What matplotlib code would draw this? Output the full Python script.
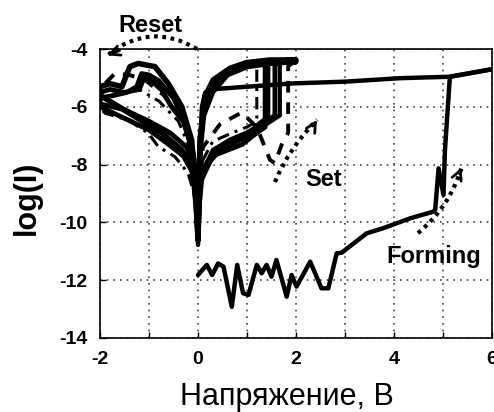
import matplotlib
matplotlib.use("Agg")
import matplotlib.pyplot as plt

plt.rcParams["font.family"] = ["Liberation Sans", "DejaVu Sans"]
plt.rcParams["font.weight"] = "bold"

# ---------------- data ----------------
# forming sweep (0 -> 6 V) and return along the LRS line back to 0 V
forming_v = [0.0, 0.18, 0.29, 0.41, 0.52, 0.69, 0.80, 0.92, 1.03, 1.20, 1.30, 1.40, 1.50, 1.60,
             1.81, 1.91, 2.01, 2.29, 2.52, 2.66, 2.83, 2.93, 3.44, 3.78, 4.33, 4.80, 4.84, 4.91,
             5.01, 5.04, 5.14, 6.0]
forming_i = [-11.82, -11.47, -11.82, -11.42, -11.53, -12.92, -11.47, -12.45, -12.51, -11.47, -11.76,
             -11.47, -11.88, -11.30, -12.57, -11.82, -12.22, -11.36, -12.28, -12.28, -11.07, -11.05,
             -10.38, -10.20, -9.86, -9.63, -9.57, -8.13, -9.05, -7.50, -4.96, -4.70]
lrs_return_v = [6.0, 5.14, 4.12, 3.0, 1.94, 0.31, 0.15, 0.08, 0.04, 0.01, 0.0]
lrs_return_i = [-4.70, -4.96, -5.01, -5.13, -5.19, -5.39, -5.50, -6.0, -7.5, -9.5, -10.78]

# switching cycles (0 -> -2 -> 0 -> +2 -> 0)
c1_v = [0.0, -0.05, -0.13, -0.33, -0.61, -0.88, -1.22, -1.39, -1.46, -1.55, -1.8, -2.0,
        -2.0, -1.42, -0.74, -0.33, -0.13, -0.03, 0.0,
        0.03, 0.2, 0.52, 0.99, 1.27, 1.42, 1.42, 2.0,
        1.47, 0.99, 0.65, 0.31, 0.14, 0.04, 0.0]
c1_i = [-10.6, -8.8, -7.15, -6.0, -5.19, -4.61, -4.5, -4.61, -4.9, -5.3, -5.2, -5.3,
        -5.6, -6.2, -6.9, -7.5, -8.1, -9.0, -10.6,
        -8.6, -7.9, -7.37, -7.03, -6.57, -6.4, -4.45, -4.38,
        -4.38, -4.47, -4.67, -5.07, -5.65, -7.15, -10.6]

c2_v = [0.0, -0.1, -0.3, -0.54, -0.74, -0.95, -1.1, -1.2, -1.5, -1.8, -2.0,
        -2.0, -1.5, -1.0, -0.57, -0.23, -0.05, 0.0,
        0.05, 0.31, 0.65, 1.0, 1.3, 1.57, 1.57, 2.0,
        1.5, 1.0, 0.6, 0.3, 0.12, 0.03, 0.0]
c2_i = [-10.3, -7.6, -6.5, -6.0, -5.42, -5.1, -5.0, -5.4, -5.5, -5.4, -5.5,
        -5.9, -6.1, -6.5, -6.9, -7.4, -8.2, -10.3,
        -8.4, -7.5, -7.15, -6.9, -6.6, -6.3, -4.45, -4.42,
        -4.45, -4.55, -4.8, -5.3, -6.0, -7.6, -10.3]

c3_v = [0.0, -0.08, -0.25, -0.5, -0.8, -1.0, -1.15, -1.25, -1.45, -1.7, -2.0,
        -2.0, -1.5, -1.0, -0.6, -0.3, -0.1, 0.0,
        0.05, 0.3, 0.6, 0.9, 1.2, 1.37, 1.37, 2.0,
        1.5, 1.0, 0.6, 0.3, 0.12, 0.03, 0.0]
c3_i = [-10.4, -7.8, -6.6, -5.7, -5.1, -4.9, -4.85, -5.3, -5.5, -5.6, -5.7,
        -6.0, -6.4, -6.8, -7.3, -7.7, -8.3, -10.4,
        -8.6, -7.7, -7.5, -7.3, -6.9, -6.7, -4.5, -4.45,
        -4.5, -4.62, -4.9, -5.5, -6.3, -7.8, -10.4]

c4_v = [0.0, -0.1, -0.35, -0.7, -1.08, -1.4, -1.69, -1.9, -2.0,
        -2.0, -1.5, -1.0, -0.7, -0.4, -0.15, 0.0,
        0.1, 0.45, 0.89, 1.2, 1.47, 1.57, 1.71, 1.84, 1.84, 2.0,
        1.5, 1.0, 0.6, 0.3, 0.1, 0.0]
c4_i = [-10.0, -7.5, -6.3, -5.6, -5.07, -4.9, -4.84, -5.2, -5.5,
        -6.1, -6.4, -6.75, -7.1, -7.5, -8.0, -10.0,
        -7.4, -6.6, -6.2, -6.7, -7.84, -7.95, -7.3, -6.9, -4.6, -4.4,
        -4.45, -4.55, -4.75, -5.2, -6.0, -10.0]

c5_v = [0.0, -0.15, -0.4, -0.8, -1.2, -1.6, -2.0,
        -2.0, -1.9, -1.42, -1.01, -0.81, -0.47, -0.2, 0.0,
        0.05, 0.3, 0.7, 1.0, 1.2, 1.2, 2.0]
c5_i = [-9.5, -7.5, -6.5, -5.8, -5.4, -5.5, -5.8,
        -6.0, -6.22, -6.46, -6.92, -7.38, -7.73, -8.3, -9.5,
        -8.0, -7.2, -6.9, -6.7, -6.5, -4.5, -4.4]

c6_v = [0.0, 0.1, 0.4, 0.8, 1.1, 1.4, 1.67, 1.67]
c6_i = [-10.0, -8.2, -7.6, -7.2, -6.9, -6.6, -6.3, -4.4]

x_ticks = [-2, -1, 0, 1, 2, 3, 4, 5, 6]
x_labels = ["-2", "", "0", "", "2", "", "4", "", "6"]
y_ticks = [-14, -12, -10, -8, -6, -4]
y_labels = ["-14", "-12", "-10", "-8", "-6", "-4"]

# ---------------- figure ----------------
fig = plt.figure(figsize=(4.94, 4.12), dpi=100)
ax = fig.add_axes([100 / 494, 1 - 338 / 412, 392 / 494, 289 / 412])

k = dict(color="black", solid_capstyle="round", solid_joinstyle="round")
ax.plot(forming_v, forming_i, lw=3.2, **k)
ax.plot(lrs_return_v, lrs_return_i, lw=3.2, **k)
ax.plot(c1_v, c1_i, lw=4.0, **k)
ax.plot(c2_v, c2_i, lw=3.5, **k)
ax.plot(c3_v, c3_i, lw=3.5, **k)
ax.plot(c4_v, c4_i, lw=2.8, ls=(0, (3, 2.5)), color="black")
ax.plot(c5_v, c5_i, lw=2.2, ls=(0, (4, 2, 1, 2)), color="black")
ax.plot(c6_v, c6_i, lw=3.0, **k)

ax.set_xlim(-2, 6)
ax.set_ylim(-14, -4)
ax.set_xticks(x_ticks)
ax.set_xticklabels(x_labels, fontsize=14, fontweight="bold")
ax.set_yticks(y_ticks)
ax.set_yticklabels(y_labels, fontsize=14, fontweight="bold")
ax.tick_params(direction="in", length=4, width=1, colors="black")
ax.tick_params(axis="x", pad=9)
ax.tick_params(axis="y", pad=9)
ax.grid(True, ls=(0, (1, 3)), color="#444444", lw=1.2)
ax.set_axisbelow(True)
for s in ax.spines.values():
    s.set_linewidth(1.2)

# arrows
def dotted_arrow(x0, y0, x1, y1, rad, hx, hy):
    ax.annotate("", xy=(x1, y1), xytext=(x0, y0),
                arrowprops=dict(arrowstyle="-", ls=(0, (0.9, 1.1)), lw=3, color="black",
                                connectionstyle=f"arc3,rad={rad}", shrinkA=0, shrinkB=0,
                                capstyle="butt"),
                annotation_clip=False)
    ax.annotate("", xy=(x1, y1), xytext=(hx, hy),
                arrowprops=dict(arrowstyle="->,head_length=0.7,head_width=0.35", lw=2,
                                color="black", shrinkA=0, shrinkB=0),
                annotation_clip=False)

dotted_arrow(-0.02, -4.0, -1.85, -4.22, 0.35, -1.6, -4.05)
dotted_arrow(1.57, -8.6, 2.43, -6.45, -0.1, 2.36, -6.65)
dotted_arrow(4.49, -10.37, 5.38, -8.1, 0.15, 5.33, -8.3)

tf = dict(fontweight="bold", fontsize=17, color="black")
fig.text(118 / 494, 1 - 31.7 / 412, "Reset", ha="left", va="baseline", **tf)
fig.text(305 / 494, 1 - 186 / 412, "Set", ha="left", va="baseline", **tf)
fig.text(386 / 494, 1 - 263.3 / 412, "Forming", ha="left", va="baseline", **tf)

fig.text(0.055, 0.519, "log(I)", rotation=90, ha="center", va="center",
         fontweight="bold", fontsize=22)
fig.text(287 / 494, 1 - 405 / 412, "Напряжение, В", ha="center", va="baseline",
         fontweight="normal", fontsize=22)

fig.savefig("out.png", dpi=100)
